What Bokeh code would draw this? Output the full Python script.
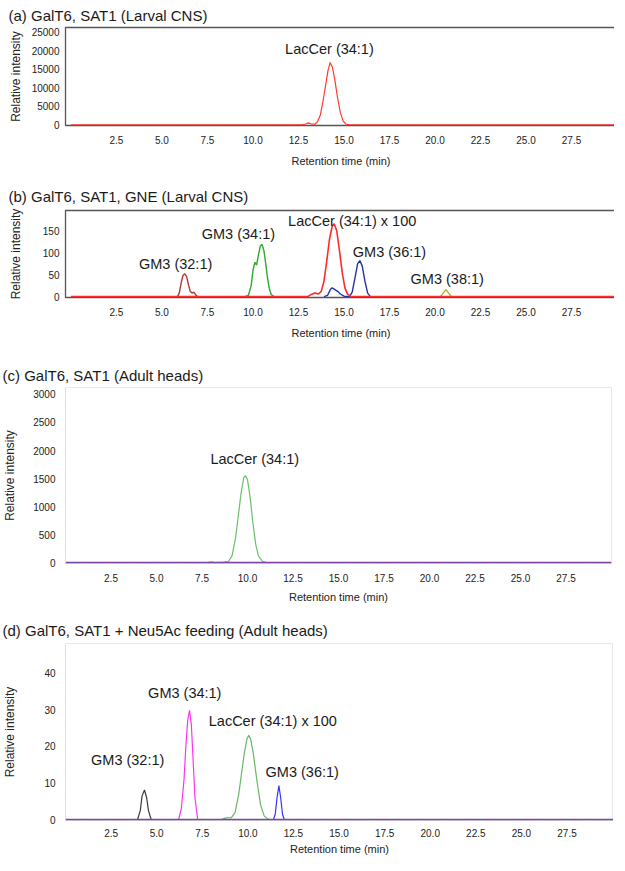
from bokeh.plotting import figure
from bokeh.layouts import column
from bokeh.models import FixedTicker, Range1d
from bokeh.core.properties import value
from bokeh.embed import file_html
from bokeh.resources import INLINE

FONT = "Liberation Sans"

# ---------------- data ----------------
x_ticks = [2.5, 5.0, 7.5, 10.0, 12.5, 15.0, 17.5, 20.0, 22.5, 25.0, 27.5]
x_tick_labels = ["2.5", "5.0", "7.5", "10.0", "12.5", "15.0", "17.5", "20.0", "22.5", "25.0", "27.5"]

# (a) GalT6, SAT1 (Larval CNS)
a_y_ticks = [0, 5000, 10000, 15000, 20000, 25000]
a_lac_t = [0, 12.7, 12.9, 13.04, 13.2, 13.4, 13.55, 13.7, 13.85, 14.0, 14.12, 14.24,
           14.36, 14.5, 14.65, 14.8, 14.95, 15.1, 15.3, 30]
a_lac_y = [0, 0, 250, 550, 250, 200, 900, 2700, 6500, 11000, 14600, 16800,
           15600, 12000, 7200, 3300, 1100, 250, 0, 0]
a_lab_x = [14.2]
a_lab_y = [20500]
a_lab_text = ["LacCer (34:1)"]

# (b) GalT6, SAT1, GNE (Larval CNS)
b_y_ticks = [0, 50, 100, 150]
b_gm32_t = [5.85, 5.95, 6.05, 6.15, 6.25, 6.35, 6.45, 6.55, 6.65, 6.75, 6.85, 6.95]
b_gm32_y = [0, 8, 30, 48, 52, 46, 28, 12, 8, 10, 4, 0]
b_gm34_t = [9.55, 9.75, 9.9, 10.0, 10.1, 10.2, 10.3, 10.4, 10.5, 10.6, 10.7,
            10.8, 10.9, 11.0, 11.15]
b_gm34_y = [0, 3, 25, 60, 78, 72, 95, 115, 119, 105, 75, 42, 18, 5, 0]
b_gm36_t = [13.9, 14.1, 14.25, 14.35, 14.5, 14.65, 14.8, 15.0, 15.3, 15.45, 15.6,
            15.75, 15.87, 16.0, 16.15, 16.3, 16.45]
b_gm36_y = [0, 3, 16, 20, 16, 12, 6, 1, 0, 10, 42, 75, 82, 70, 35, 8, 0]
b_gm38_t = [20.3, 20.45, 20.6, 20.75, 20.9]
b_gm38_y = [0, 8, 16, 8, 0]
b_lac_t = [0, 13.0, 13.2, 13.4, 13.6, 13.75, 13.9, 14.05, 14.2, 14.35, 14.46, 14.6,
           14.75, 14.9, 15.05, 15.2, 15.4, 30]
b_lac_y = [0, 0, 5, 8, 6, 12, 35, 80, 130, 160, 166, 150, 105, 55, 20, 5, 0, 0]
b_lab_x = [5.75, 9.2, 15.45, 17.5, 20.67]
b_lab_y = [75, 143, 173, 102, 41]
b_lab_text = ["GM3 (32:1)", "GM3 (34:1)", "LacCer (34:1) x 100", "GM3 (36:1)", "GM3 (38:1)"]

# (c) GalT6, SAT1 (Adult heads)
c_y_ticks = [0, 500, 1000, 1500, 2000, 2500, 3000]
c_lac_t = [7.8, 8.0, 8.2, 8.7, 8.95, 9.15, 9.35, 9.5, 9.65, 9.8, 9.9, 10.0, 10.15,
           10.3, 10.45, 10.6, 10.8, 11.0, 11.2]
c_lac_y = [0, 15, 0, 10, 20, 120, 450, 850, 1250, 1520, 1550, 1480, 1150,
           700, 330, 120, 30, 5, 0]
c_base_t = [0, 30]
c_base_y = [0, 0]
c_lab_x = [10.4]
c_lab_y = [1846]
c_lab_text = ["LacCer (34:1)"]

# (d) GalT6, SAT1 + Neu5Ac feeding (Adult heads)
d_y_ticks = [0, 10, 20, 30, 40]
d_gm32_t = [3.95, 4.1, 4.2, 4.33, 4.45, 4.55, 4.7]
d_gm32_y = [0, 2.5, 6.5, 8.1, 6.0, 2.5, 0]
d_gm34_t = [6.2, 6.35, 6.5, 6.6, 6.7, 6.8, 6.9, 7.0, 7.1, 7.25]
d_gm34_y = [0, 3, 11, 20, 27, 29.8, 26, 16, 6, 0]
d_lac_t = [8.5, 8.8, 9.1, 9.3, 9.5, 9.65, 9.8, 9.95, 10.05, 10.15, 10.3, 10.5,
           10.7, 10.9, 11.1, 11.3]
d_lac_y = [0, 0.5, 0.6, 2, 7, 12.5, 18, 22, 23, 22, 18, 10.5, 4, 1, 0.2, 0]
d_gm36_t = [11.4, 11.5, 11.6, 11.7, 11.8, 11.9, 12.0]
d_gm36_y = [0, 1.5, 6, 9.3, 6, 1.5, 0]
d_base_t = [0, 30.3]
d_base_y = [0, 0]
d_lab_x = [3.41, 6.54, 11.37, 12.98]
d_lab_y = [16.2, 34.6, 27, 13]
d_lab_text = ["GM3 (32:1)", "GM3 (34:1)", "LacCer (34:1) x 100", "GM3 (36:1)"]


def panel(title, x_range, y_range, y_ticks, frame_w, frame_h, b_left, b_right,
          b_top, b_bottom, title_standoff, title_offset, outline, ylab_off,
          ytick_off, xtick_off, xlab_off, dotted_axis):
    p = figure(frame_width=frame_w, frame_height=frame_h,
               min_border_left=b_left, min_border_right=b_right,
               min_border_top=b_top, min_border_bottom=b_bottom,
               x_range=Range1d(*x_range), y_range=Range1d(*y_range),
               output_backend="svg", toolbar_location=None, title=title)
    p.title.text_font = FONT
    p.title.text_font_size = "15px"
    p.title.text_font_style = "normal"
    p.title.text_color = "#1a1a1a"
    p.title.align = "left"
    p.title.offset = title_offset
    p.title.standoff = title_standoff
    p.grid.visible = False
    p.outline_line_color = outline
    p.outline_line_width = 1.3 if not dotted_axis else 1
    p.background_fill_color = "white"
    p.border_fill_color = "white"

    xa = p.xaxis[0]
    xa.ticker = FixedTicker(ticks=x_ticks)
    xa.major_label_overrides = {t: l for t, l in zip(x_ticks, x_tick_labels)}
    xa.axis_label = "Retention time (min)"
    ya = p.yaxis[0]
    ya.ticker = FixedTicker(ticks=y_ticks)
    ya.major_label_overrides = {t: str(t) for t in y_ticks}
    ya.axis_label = "Relative intensity"
    for ax in (xa, ya):
        ax.major_label_text_font = FONT
        ax.major_label_text_font_size = "10px"
        ax.major_label_text_color = "#222222"
        ax.axis_label_text_font = FONT
        ax.axis_label_text_font_style = "normal"
        ax.axis_label_text_color = "#222222"
        ax.major_tick_out = 0
        ax.major_tick_in = 0
        ax.minor_tick_out = 0
        ax.minor_tick_in = 0
        if dotted_axis:
            ax.axis_line_color = "#cfcfcf"
            ax.axis_line_dash = "1 2"
        else:
            ax.axis_line_color = outline
    xa.axis_label_text_font_size = "11px"
    ya.axis_label_text_font_size = "12px"
    ya.major_label_standoff = ytick_off
    ya.axis_label_standoff = ylab_off
    xa.major_label_standoff = xtick_off
    xa.axis_label_standoff = xlab_off
    return p


def labels(p, xs, ys, texts):
    p.text(x=xs, y=ys, text=texts, text_font=value(FONT), text_font_size="14.5px",
           text_align="center", text_baseline="middle", text_color="#1a1a1a")


# (a)
pa = panel("(a) GalT6, SAT1 (Larval CNS)", (-0.3, 29.97), (-150, 26200), a_y_ticks,
           551, 98, 55, 3, 25, 49, 8, -57, "#555555", 6, 6, 10, 8, False)
pa.line(a_lac_t, a_lac_y, line_color="#ff3b30", line_width=1.2)
labels(pa, a_lab_x, a_lab_y, a_lab_text)

# (b)
pb = panel("(b) GalT6, SAT1, GNE (Larval CNS)", (-0.3, 29.97), (-2, 196), b_y_ticks,
           551, 87, 55, 3, 36, 49, 12, -57, "#555555", 17, 6, 10, 8, False)
pb.line(b_gm32_t, b_gm32_y, line_color="#b23a2e", line_width=1.4)
pb.line(b_gm34_t, b_gm34_y, line_color="#2ea82e", line_width=1.4)
pb.line(b_gm36_t, b_gm36_y, line_color="#2233aa", line_width=1.4)
pb.line(b_gm38_t, b_gm38_y, line_color="#b5b020", line_width=1.4)
pb.line(b_lac_t, b_lac_y, line_color="#ff2a2a", line_width=1.6)
labels(pb, b_lab_x, b_lab_y, b_lab_text)

# (c)
pc = panel("(c) GalT6, SAT1 (Adult heads)", (0, 30), (-15, 3124), c_y_ticks,
           546, 176, 61, 2, 41, 46, 8, -63, "#e8e8e8", 13, 10, 10, 6, True)
pc.line(c_lac_t, c_lac_y, line_color="#6cbf6c", line_width=1.2)
pc.line(c_base_t, c_base_y, line_color="#7b44a8", line_width=2)
labels(pc, c_lab_x, c_lab_y, c_lab_text)

# (d)
pd = panel("(d) GalT6, SAT1 + Neu5Ac feeding (Adult heads)", (0, 30.05), (-0.2, 48), d_y_ticks,
           548, 177, 61, 0, 34, 37, 8.5, -63, "#e8e8e8", 24, 10, 8, 3, True)
pd.line(d_gm32_t, d_gm32_y, line_color="#3a3a3a", line_width=1.2)
pd.line(d_gm34_t, d_gm34_y, line_color="#ff33ee", line_width=1.2)
pd.line(d_lac_t, d_lac_y, line_color="#66b866", line_width=1.2)
pd.line(d_gm36_t, d_gm36_y, line_color="#3333ff", line_width=1.2)
pd.line(d_base_t, d_base_y, line_color="#7b44a8", line_width=2)
labels(pd, d_lab_x, d_lab_y, d_lab_text)

layout = column(pa, pb, pc, pd, spacing=0)
open("out.html", "w").write(file_html(layout, INLINE))
